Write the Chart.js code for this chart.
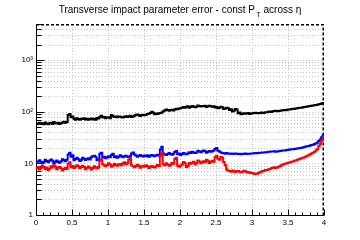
<!DOCTYPE html>
<html><head><meta charset="utf-8">
<script src="https://cdn.jsdelivr.net/npm/chart.js@4.4.0/dist/chart.umd.min.js"></script>
<style>html,body{margin:0;padding:0;background:#fff;overflow:hidden}canvas{display:block}</style>
</head><body>
<canvas id="c" width="360" height="240"></canvas>
<script>
const titleMain = 'Transverse impact parameter error - const P';
const titleSub = 'T';
const titleTail = ' across \u03B7';
const etaMin = 0, etaMax = 4;
const xTickLabels = ['0','0.5','1','1.5','2','2.5','3','3.5','4'];
const yTickLabels = {1:'1', 10:'10', 100:'10\u00B2', 1000:'10\u00B3'};
const yMin = 1, yMax = 5000;

const black = [57,59,61,58,60,57,62,59,57,60,61,58,63,60,59,61,58,60,62,64,61,63,
  86,90,78,81,
  73,70,75,72,70,73,72,75,71,73,70,72,
  74,71,73,70,76,74,
  80,84,77,79,
  75,78,78,75,86,82,79,81,
  78,81,80,78,77,80,82,79,81,84,79,81,
  84,87,88,85,83,86,87,85,
  87,90,91,94,100,96,89,92,90,93,94,97,
  102,106,111,108,105,108,109,106,111,114,112,115,
  117,120,123,119,125,128,120,123,129,126,122,125,132,129,126,129,128,131,124,127,131,128,125,128,
  121,124,117,120,125,122,113,116,120,117,
  108,112,101,105,113,110,93,97,
  89,91,93,91,92,94,90,92,
  93,95,96,94,93,95,97,95,96,98,
  98,100,101,99,102,103,104,102,103,105,106,107,108,107,109,111,
  111,113,114,113,115,117,118,119,120,122,123,125,126,128,129,131,
  132,134,135,137,139,141,144,148];

const blue = [10.2,10.9,11.5,10.8,10.0,10.6,11.8,11.1,10.5,11.2,11.9,11.2,10.1,10.8,11.3,10.6,10.3,11.0,12.0,11.5,11.0,11.7,
  14.8,16.0,13.5,14.3,
  11.5,12.1,12.8,12.0,11.1,11.7,12.9,12.3,11.6,12.2,12.5,11.9,
  13.2,13.8,14.0,13.4,11.5,12.0,
  15.4,16.1,
  13.0,13.5,12.6,13.1,13.7,13.1,
  14.6,15.3,13.2,13.8,
  12.9,13.5,14.3,13.7,13.1,13.7,14.1,13.5,13.3,13.9,
  15.5,16.2,
  14.8,14.2,13.5,14.1,14.5,13.9,13.6,14.2,
  13.8,14.4,13.4,14.0,14.6,14.0,13.7,14.3,14.7,14.1,
  18.5,21.0,
  15.5,14.9,14.5,15.1,15.8,15.2,14.7,15.3,
  16.6,17.3,15.0,15.5,
  14.6,15.1,15.9,15.3,15.0,15.6,16.4,15.9,
  16.8,16.2,15.8,16.3,17.5,16.9,16.5,17.1,17.8,17.2,16.1,16.7,17.3,16.8,17.1,17.7,
  19.0,19.8,17.5,16.9,16.2,15.8,
  15.7,15.4,15.9,15.6,15.3,15.5,15.1,15.3,15.6,15.4,15.2,15.4,15.0,15.2,15.3,15.5,15.2,15.3,15.4,15.6,
  15.5,15.7,15.8,15.7,15.9,16.1,16.1,16.3,16.3,16.5,16.5,16.7,16.7,16.9,16.9,17.1,16.8,17.0,17.1,17.3,
  17.5,17.7,17.8,18.0,18.1,18.3,18.5,18.7,18.7,19.0,19.2,19.4,19.6,19.9,20.1,20.4,
  20.8,21.2,21.4,21.8,22.2,22.7,23.0,23.6,24.2,25.3,
  27.0,29.0,32.0,35.0];

const red = [8.0,8.5,7.6,8.1,9.0,8.5,7.8,8.3,7.4,7.9,8.8,8.3,9.2,8.7,7.7,8.2,8.5,8.0,7.3,7.8,8.2,7.8,
  9.8,10.5,8.4,8.9,
  8.1,8.7,9.2,8.8,8.0,8.5,9.0,8.5,7.7,8.2,8.7,8.2,
  7.6,8.1,8.8,8.3,8.0,8.5,
  11.3,12.0,
  9.6,9.1,8.8,9.3,10.0,9.5,8.6,9.1,9.8,9.3,9.0,9.5,9.7,9.2,
  10.0,10.5,9.6,10.1,11.8,12.5,
  9.2,8.8,8.4,8.9,9.4,9.0,8.2,8.7,9.0,8.6,9.2,8.8,8.1,8.6,8.9,8.5,8.3,8.8,9.3,8.9,
  14.0,16.2,
  9.6,9.2,10.0,9.5,9.0,9.4,10.2,9.8,
  12.2,12.9,9.0,8.6,
  9.0,9.5,10.6,10.1,8.5,8.9,10.2,9.8,
  10.3,10.8,9.6,10.1,11.4,10.9,10.0,10.5,11.0,10.6,11.7,11.2,10.2,10.7,11.2,10.8,
  13.2,14.0,12.3,11.8,13.5,12.8,
  10.6,9.2,
  7.6,7.2,7.1,6.9,7.3,7.0,6.8,7.1,
  7.1,6.9,6.7,6.9,7.2,7.0,6.8,6.6,6.7,6.5,6.5,6.3,6.2,6.3,
  6.5,6.7,6.9,7.1,7.2,7.4,7.4,7.6,
  7.8,8.0,8.2,8.4,8.1,8.3,8.6,8.8,
  9.2,9.5,9.7,9.9,10.1,10.3,10.5,10.7,10.9,11.2,11.4,11.7,12.0,12.3,12.5,12.8,
  13.2,13.6,14.0,14.4,15.0,15.5,16.1,16.8,17.8,18.8,
  21.5,23.8,27.0,30.5];

function histPoints(vals){
  const w = (etaMax - etaMin) / vals.length;
  const pts = vals.map((v,i)=>({x: etaMin + i*w, y: v}));
  pts.push({x: etaMax, y: vals[vals.length-1]});
  return pts;
}

const FONT = '"Liberation Sans", Arial, Helvetica, sans-serif';

const framePlugin = {
  id: 'rootFrame',
  beforeDatasetsDraw(chart){
    const {ctx, chartArea: a, scales:{x, y}} = chart;
    ctx.save();
    ctx.strokeStyle = '#c4c4c4';
    ctx.lineWidth = 1;
    ctx.setLineDash([1,2]);
    for (let v = 0.5; v < etaMax; v += 0.5) {
      const px = Math.round(x.getPixelForValue(v)) + 0.5;
      ctx.beginPath(); ctx.moveTo(px, a.top); ctx.lineTo(px, a.bottom); ctx.stroke();
    }
    for (let d = 1; d <= 1000; d *= 10) {
      for (let m = 1; m <= 9; m++) {
        const v = d*m; if (v <= yMin || v >= yMax) continue;
        const py = Math.round(y.getPixelForValue(v)) + 0.5;
        ctx.beginPath(); ctx.moveTo(a.left, py); ctx.lineTo(a.right, py); ctx.stroke();
      }
    }
    ctx.setLineDash([]);
    ctx.strokeStyle = '#000';
    ctx.lineWidth = 1;
    const L = Math.round(a.left)+0.5, B = Math.round(a.bottom)+0.5;
    ctx.beginPath(); ctx.moveTo(L, a.top); ctx.lineTo(L, B); ctx.lineTo(a.right, B); ctx.stroke();
    ctx.lineWidth = 1.5;
    ctx.setLineDash([3,2]);
    ctx.beginPath(); ctx.moveTo(a.left, a.top+0.75); ctx.lineTo(a.right-0.75, a.top+0.75); ctx.lineTo(a.right-0.75, a.bottom); ctx.stroke();
    ctx.setLineDash([]);
    ctx.lineWidth = 1;
    for (let k = 0; k <= 40; k++) {
      const v = k*0.1; const px = Math.round(x.getPixelForValue(v)) + 0.5;
      const len = (k % 5 === 0) ? 6 : 3;
      ctx.beginPath(); ctx.moveTo(px, B); ctx.lineTo(px, B - len); ctx.stroke();
    }
    for (let d = 1; d <= 1000; d *= 10) {
      for (let m = 1; m <= 9; m++) {
        const v = d*m; if (v < yMin || v > yMax) continue;
        const py = Math.round(y.getPixelForValue(v)) + 0.5;
        const len = (m === 1) ? 8 : 5;
        ctx.beginPath(); ctx.moveTo(L, py); ctx.lineTo(L + len, py); ctx.stroke();
      }
    }
    ctx.restore();
  },
  afterDraw(chart){
    const ctx = chart.ctx;
    ctx.save();
    ctx.fillStyle = '#000';
    ctx.textBaseline = 'alphabetic';
    ctx.font = '10px ' + FONT;
    const w1 = ctx.measureText(titleMain).width;
    const w3 = ctx.measureText(titleTail).width;
    ctx.font = '7px ' + FONT;
    const w2 = ctx.measureText(titleSub).width;
    const gap = 1.5;
    const total = w1 + gap + w2 + w3;
    let x0 = 180 - total/2;
    const base = 13;
    ctx.font = '10px ' + FONT;
    ctx.fillText(titleMain, x0, base);
    ctx.font = '7px ' + FONT;
    ctx.fillText(titleSub, x0 + w1 + gap, base + 4);
    ctx.font = '10px ' + FONT;
    ctx.fillText(titleTail, x0 + w1 + gap + w2, base);
    ctx.restore();
  }
};

new Chart(document.getElementById('c'), {
  type: 'line',
  data: {
    datasets: [
      {data: histPoints(red), borderColor: '#ff0000'},
      {data: histPoints(blue), borderColor: '#0000ff'},
      {data: histPoints(black), borderColor: '#000000'}
    ].map(d => Object.assign(d, {borderWidth: 2, pointRadius: 0, stepped: 'before', fill: false, tension: 0, borderJoinStyle: 'miter'}))
  },
  options: {
    responsive: false,
    animation: false,
    devicePixelRatio: 1,
    layout: {padding: {top: 24, right: 36, left: 0, bottom: 0}},
    plugins: {legend: {display: false}, tooltip: {enabled: false}, title: {display: false}},
    scales: {
      x: {
        type: 'linear', min: etaMin, max: etaMax,
        grid: {display: false, drawTicks: false}, border: {display: false},
        ticks: {
          stepSize: 0.5, padding: 3, color: '#000', maxRotation: 0, autoSkip: false,
          font: {family: FONT, size: 8},
          callback: (v, i) => xTickLabels[i] !== undefined ? xTickLabels[i] : ''
        },
        afterFit: s => { s.height = 25; }
      },
      y: {
        type: 'logarithmic', min: yMin, max: yMax,
        grid: {display: false, drawTicks: false}, border: {display: false},
        ticks: {
          padding: 3, color: '#000', autoSkip: false,
          font: {family: FONT, size: 8},
          callback: v => yTickLabels[v] !== undefined ? yTickLabels[v] : ''
        },
        afterFit: s => { s.width = 36; }
      }
    }
  },
  plugins: [framePlugin]
});
</script>
</body></html>
